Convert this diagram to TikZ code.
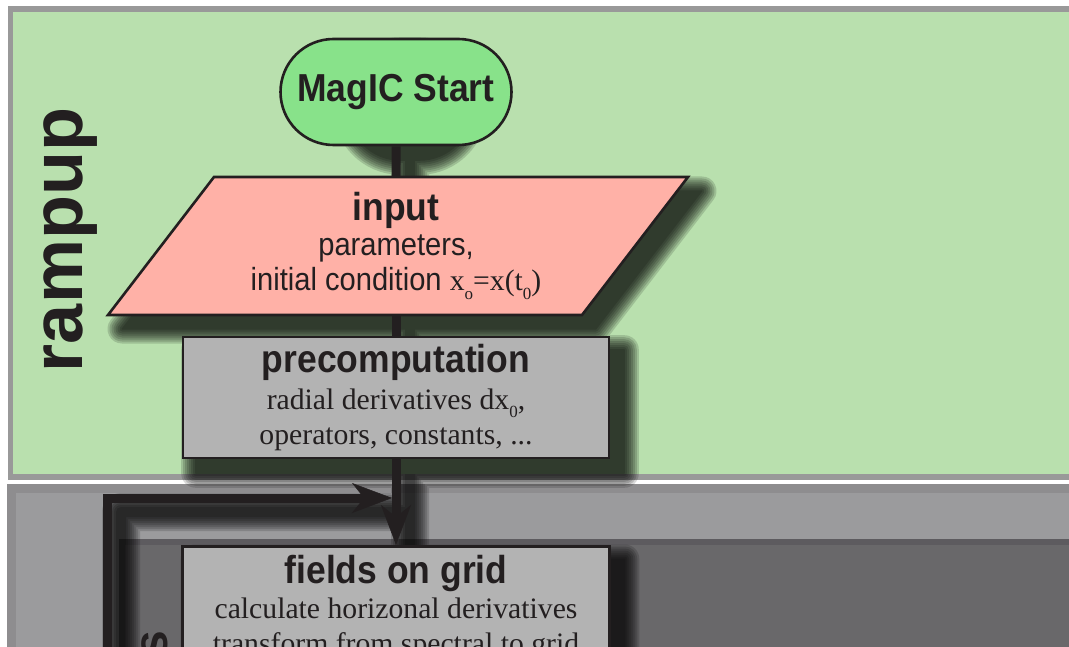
\documentclass[tikz,border=0pt]{standalone}
\usepackage{fontspec}
\setmainfont{Liberation Serif}
\newfontfamily\headfont[FakeStretch=0.91]{Liberation Sans}
\newfontfamily\lanefont{Liberation Sans}
\usetikzlibrary{shapes.misc, arrows.meta}

\definecolor{ink}{HTML}{231F20}
\definecolor{rampgreen}{HTML}{B9E0AE}
\definecolor{rampframe}{HTML}{999999}
\definecolor{startgreen}{HTML}{88E28A}
\definecolor{inputpink}{HTML}{FFB1A7}
\definecolor{boxgrey}{HTML}{B3B3B3}
\definecolor{loopframe}{HTML}{8E8D8F}
\definecolor{loopgrey}{HTML}{9B9B9D}
\definecolor{innerframe}{HTML}{5D5B5F}
\definecolor{innergrey}{HTML}{69686A}

% heading / body text
\newcommand\headtext[1]{{\headfont\bfseries\fontsize{39}{39}\selectfont #1}}
\newcommand\serifbody{\fontsize{29.7}{35}\selectfont}
\newcommand\sansbody{\headfont\fontsize{32}{35}\selectfont}
\newcommand\lowsub[1]{\raisebox{-0.28em}{\fontsize{17}{17}\selectfont #1}}

\pgfdeclarelayer{panels}
\pgfdeclarelayer{dropshadow}
\pgfsetlayers{panels,dropshadow,main}

\tikzset{
  stepbox/.style={draw=ink, line width=2.6pt, fill=boxgrey,
      align=center, text=ink, font=\serifbody, inner sep=0pt},
  startbox/.style={rounded rectangle, draw=ink, line width=2.6pt, fill=startgreen,
      minimum width=231pt, minimum height=106pt, inner sep=0pt, text=ink},
  inputshape/.style={draw=ink, line width=2.6pt, fill=inputpink},
  flow/.style={draw=ink, line width=9pt},
  bigtip/.style={-{Stealth[length=40pt, width=30pt, inset=12pt, line width=0.5pt]}},
  lanename/.style={rotate=90, inner sep=0pt, text=ink},
  % one grown copy of all shapes, for a soft drop shadow
  shadowpen/.style={black, line join=round},
}

\begin{document}
\begin{tikzpicture}[x=1pt, y=-1pt]
\useasboundingbox (0,0) rectangle (1069,647);
\clip (0,0) rectangle (1069,647);

% swim lanes
\begin{pgfonlayer}{panels}
  \fill[white] (0,0) rectangle (1069,647);
  \draw[draw=rampframe, line width=5.5pt, fill=rampgreen] (10.5,9) rectangle (1090,477);
  \draw[draw=loopframe, line width=9pt, fill=loopgrey] (11.5,488.5) rectangle (1090,720);
  \draw[draw=innerframe, line width=6pt, fill=innergrey] (122,542) rectangle (1090,720);
\end{pgfonlayer}

% lane titles
\node[lanename, anchor=base, font=\lanefont\bfseries\fontsize{72}{72}\selectfont]
  (rampname) at (82,240) {rampup};
\node[lanename, anchor=base east, font=\lanefont\bfseries\fontsize{48}{48}\selectfont]
  (loopname) at (167,631) {s};

% flowchart steps
\node[startbox] (start) at (396,92) {\headtext{MagIC Start}};

\filldraw[inputshape] (214,177) -- (688,177) -- (582,315) -- (108,315) -- cycle;
\node[align=center, text=ink, font=\serifbody, minimum height=138pt, inner sep=0pt]
  (input) at (396,246)
  {\headtext{input}\\
   {\sansbody parameters,}\\
   {\sansbody initial condition }x\lowsub{o}=x(t\lowsub{0})};

\node[stepbox, minimum width=426pt, minimum height=121pt] (pre) at (396,397.5)
  {\headtext{precomputation}\\[2pt]
   radial derivatives dx\lowsub{0},\\
   operators, constants, ...};

\node[stepbox, anchor=north, minimum width=427pt, inner ysep=9pt] (fields) at (396,545)
  {\headtext{fields on grid}\\
   calculate horizonal derivatives\\
   transform from spectral to grid};

% connectors
\coordinate (loopfoot) at (107,700);
\coordinate (loopjoin) at (392,498);

\draw[flow] (start) -- (input);
\draw[flow] (input) -- (pre);
\draw[flow, bigtip] (pre) -- (fields);
\draw[flow, bigtip] (loopfoot) |- (loopjoin);

% soft drop shadows under steps and connectors: stacked, grown copies
\begin{pgfonlayer}{dropshadow}
  \foreach \e in {0.5,2.5,...,14.5} {
    \begin{scope}[transparency group, opacity=.15]
      \path (-40,-40) rectangle (1110,740);
      \begin{scope}[transform canvas={shift={(14pt,-14pt)}}]
        \filldraw[shadowpen, line width=2*\e pt, rounded corners=53pt]
          (start.north west) rectangle (start.south east);
        \filldraw[shadowpen, line width=2*\e pt]
          (214,177) -- (688,177) -- (582,315) -- (108,315) -- cycle;
        \filldraw[shadowpen, line width=2*\e pt]
          (pre.north west) rectangle (pre.south east);
        \filldraw[shadowpen, line width=2*\e pt]
          (fields.north west) rectangle (fields.south east);
        \draw[shadowpen, line width=9pt+2*\e pt]
          (start.south) -- (fields.north) (loopfoot) |- (loopjoin);
      \end{scope}
    \end{scope}
  }
\end{pgfonlayer}
\end{tikzpicture}
\end{document}
